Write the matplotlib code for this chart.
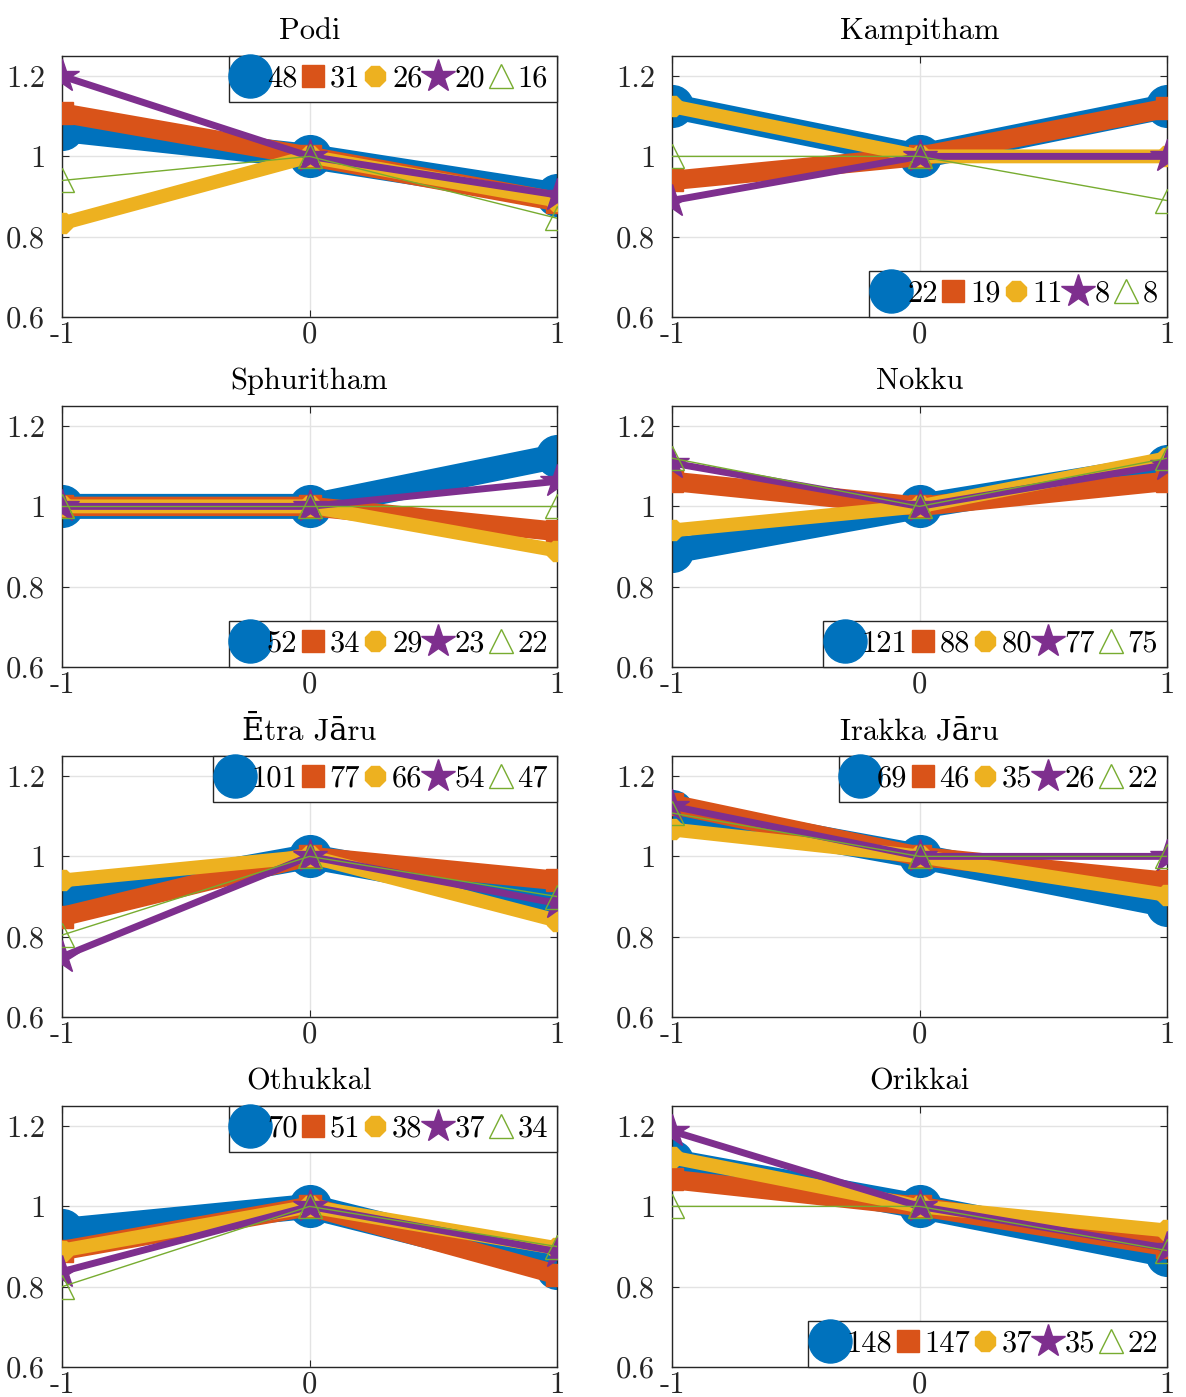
import matplotlib
matplotlib.use('Agg')
import matplotlib.pyplot as plt
from matplotlib.lines import Line2D

plt.rcParams['font.family'] = ['cmr10', 'DejaVu Serif']
plt.rcParams['axes.unicode_minus'] = False
plt.rcParams['axes.formatter.use_mathtext'] = True

titles = ['Podi', 'Kampitham', 'Sphuritham', 'Nokku',
          'Ētra Jāru', 'Irakka Jāru', 'Othukkal', 'Orikkai']
x_vals = [-1, 0, 1]
x_tick_labels = ['-1', '0', '1']
y_ticks = [0.6, 0.8, 1.0, 1.2]
y_tick_labels = ['0.6', '0.8', '1', '1.2']

# values at x = -1, 0, 1 for each panel
blue = [[1.067, 1, 0.904], [1.125, 1, 1.125], [1.0, 1, 1.125], [0.888, 1, 1.10],
        [0.889, 1, 0.889], [1.112, 1, 0.879], [0.94, 1, 0.846], [1.112, 1, 0.879]]
orange = [[1.108, 1, 0.8875], [0.94, 1, 1.12], [1.0, 1, 0.9375], [1.0625, 1, 1.0625],
          [0.85, 1, 0.94], [1.13, 1, 0.9375], [0.89, 1, 0.83], [1.067, 1, 0.90]]
yellow = [[0.833, 1, 0.89], [1.125, 1, 1.0], [1.0, 1, 0.89], [0.94, 1, 1.12],
          [0.94, 1, 0.84], [1.067, 1, 0.904], [0.89, 1, 0.896], [1.122, 1, 0.94]]
purple = [[1.2, 1, 0.904], [0.89, 1, 1.0], [1.0, 1, 1.0625], [1.108, 1, 1.104],
          [0.75, 1, 0.883], [1.125, 1, 1.0], [0.8375, 1, 0.8875], [1.1875, 1, 0.896]]
green = [[0.94, 1, 0.846], [1.0, 1, 0.89], [1.0, 1, 1.0], [1.12, 1, 1.12],
         [0.804, 1, 0.9], [1.108, 1, 1.0], [0.8, 1, 0.9], [1.0, 1, 0.89]]
counts = [[48, 31, 26, 20, 16], [22, 19, 11, 8, 8], [52, 34, 29, 23, 22],
          [121, 88, 80, 77, 75], [101, 77, 66, 54, 47], [69, 46, 35, 26, 22],
          [70, 51, 38, 37, 34], [148, 147, 37, 35, 22]]
legend_locs = ['upper right', 'lower right', 'lower right', 'lower right',
               'upper right', 'upper right', 'upper right', 'lower right']

series = [blue, orange, yellow, purple, green]
colors = ['#0072BD', '#D95319', '#EDB120', '#7E2F8E', '#77AC30']
linewidths = [18, 14, 10, 5, 1]
markers = ['o', 's', '8', '*', '^']
msizes = [30, 16, 15, 25, 17]
leg_msizes = [31, 16, 16, 25, 17]
filled = [True, True, True, True, False]

W, H = 1186, 1397
fig = plt.figure(figsize=(W / 100, H / 100), dpi=100)

lefts = [62, 672]
bottoms = [317, 667, 1017, 1367]
aw, ah = 495, 261

for i in range(8):
    r, c = divmod(i, 2)
    ax = fig.add_axes([lefts[c] / W, 1 - bottoms[r] / H, aw / W, ah / H])
    for s in range(5):
        mfc = colors[s] if filled[s] else 'none'
        ax.plot(x_vals, series[s][i], color=colors[s], lw=linewidths[s],
                marker=markers[s], ms=msizes[s], mfc=mfc, mec=colors[s],
                mew=1, solid_joinstyle='miter', zorder=2 + s)
    ax.set_xlim(-1, 1)
    ax.set_ylim(0.6, 1.25)
    ax.set_xticks(x_vals)
    ax.set_xticklabels(x_tick_labels)
    ax.set_yticks(y_ticks)
    ax.set_yticklabels(y_tick_labels)
    ax.grid(True, color='#e3e3e3', lw=1)
    ax.set_axisbelow(True)
    ax.tick_params(direction='in', top=True, right=True, length=5, width=0.8,
                   labelsize=22, colors='#262626')
    ax.tick_params(axis='y', pad=12)
    ax.tick_params(axis='x', pad=3)
    for sp in ax.spines.values():
        sp.set_color('#262626')
        sp.set_linewidth(1)
    ax.set_title(titles[i], fontsize=22, pad=12)

    handles = []
    for s in range(5):
        mfc = colors[s] if filled[s] else 'none'
        handles.append(Line2D([], [], linestyle='none', marker=markers[s],
                              ms=leg_msizes[s], mfc=mfc, mec=colors[s], mew=1))
    leg = ax.legend(handles, [str(v) for v in counts[i]], loc=legend_locs[i],
                    ncol=5, fontsize=22, borderaxespad=0, handlelength=0.8,
                    handletextpad=0.15, columnspacing=0.1, borderpad=0.3,
                    fancybox=False, framealpha=1, edgecolor='#262626')
    leg.get_frame().set_linewidth(1)
    leg.set_zorder(20)

fig.savefig('out.png', dpi=100)
